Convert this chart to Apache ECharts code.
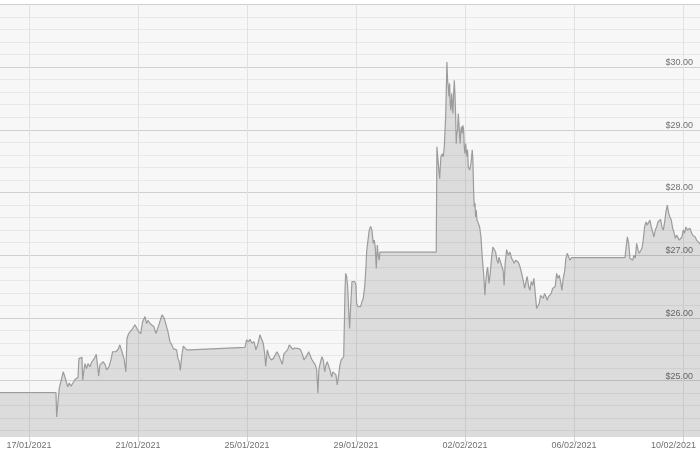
<!DOCTYPE html>
<html><head><meta charset="utf-8">
<script src="https://cdn.jsdelivr.net/npm/echarts@6/dist/echarts.min.js"></script>
<style>html,body{margin:0;padding:0;background:#fff}#c{width:700px;height:456px}</style>
</head><body><div id="c"></div>
<script>
// time is stored as hours after 17/01/2021 00:00 UTC
const startDate = '2021-01-17T00:00:00Z';
const axisStart = '2021-01-15T22:30:00Z';
const axisEnd = '2021-02-10T15:00:00Z';
const priceMin = 24.1, priceMax = 31.0;
const tickDays = 4;

const week1 = [
 [-25.5,24.81],[23.8,24.81],[24.4,24.42],[26.7,24.88],[28.2,24.89],[30.2,25.14],[32.0,25.04],[34.1,24.90],[35.5,24.96],[37.0,24.91],
 [39.0,24.97],[40.8,25.02],[42.0,24.99],[43.2,25.05],[44.0,25.35],[46.7,25.37],[47.3,25.01],[49.3,25.27],[50.8,25.19],[52.0,25.27],
 [53.7,25.22],[55.5,25.30],[57.5,25.35],[59.3,25.42],[61.4,25.07],[62.5,25.25],[64.0,25.22],[65.4,25.30],[67.2,25.25],[68.4,25.17],
 [70.5,25.22],[72.2,25.33],[73.7,25.46],[74.9,25.49],[76.6,25.46],[78.6,25.50],[80.1,25.57],[81.9,25.46],[83.7,25.35],[85.4,25.14],
 [86.3,25.67],[87.8,25.75],[89.5,25.73],[91.3,25.83],[93.4,25.89],[94.9,25.86],[96.6,25.78],[98.4,25.75],[100.1,25.94],[102.2,26.02],
 [103.6,25.91],[104.8,25.96],[106.6,25.91],[108.3,25.92],[110.1,25.86],[111.8,25.75],[113.0,25.81],[114.8,25.91],[116.5,26.01],[117.4,26.05],
 [119.2,25.99],[120.6,25.96],[122.4,25.78],[124.2,25.62],[125.9,25.57],[127.1,25.51],[128.8,25.54],[130.0,25.49],[131.2,25.35],[132.4,25.30],
 [133.3,25.16],[134.5,25.38],[135.9,25.55],[137.4,25.52],[138.9,25.49],[140.3,25.51],[141.8,25.49],[142.9,25.52],[190.2,25.53]
];
const week2 = [
 [191.7,25.65],[193.5,25.62],[194.6,25.66],[196.4,25.60],[198.2,25.62],[199.9,25.49],[201.7,25.59],[203.4,25.73],[204.9,25.70],[206.4,25.59],
 [207.6,25.43],[208.5,25.23],[209.9,25.49],[211.6,25.38],[213.4,25.33],[215.2,25.35],[216.9,25.34],[218.4,25.46],[219.9,25.41],[221.6,25.33],
 [223.1,25.26],[224.6,25.43],[226.3,25.43],[227.8,25.49],[229.3,25.57],[230.7,25.54],[232.2,25.50],[234.0,25.52],[235.7,25.49],[237.5,25.51],
 [239.3,25.49],[241.0,25.41],[242.2,25.33],[243.7,25.35],[245.1,25.41],[246.3,25.46],[247.5,25.41],[249.0,25.34],[250.4,25.33],[252.2,25.25],
 [253.4,25.17],[254.5,24.80],[255.4,25.19],[256.9,25.30],[258.0,25.38],[259.2,25.33],[260.4,25.14],[261.6,25.25],[262.7,25.30],[264.0,25.23],
 [265.1,25.17],[266.6,25.06],[267.7,25.14],[268.9,25.11],[270.4,25.09],[271.5,24.93],[272.8,25.09],[273.9,25.25],[275.0,25.33],[276.3,25.30],
 [277.2,25.38],[278.3,26.39],[278.9,26.71],[279.8,26.66],[280.7,26.50],[281.6,26.12],[282.4,25.83],[283.6,26.28],[284.5,26.58],[285.6,26.55],
 [286.8,26.58],[288.0,26.52],[288.6,26.23],[289.7,26.18],[290.9,26.20],[292.1,26.18],[293.3,26.26],[294.4,26.31],[295.7,26.50],[296.8,26.81],
 [297.4,27.05],[298.6,27.24],[299.7,27.40],[300.9,27.46],[302.1,27.40],[303.2,27.19],[304.1,27.24],[305.0,27.13],[305.9,26.79],[306.8,27.16],
 [307.6,27.00],[308.5,26.92],[309.1,27.05],[358.7,27.05]
];
const week3 = [
 [359.3,28.73],[360.5,28.46],[361.7,28.22],[362.8,28.57],[364.0,28.62],[364.9,28.57],[365.8,28.73],[367.0,29.21],[367.5,29.58],[368.1,30.08],
 [368.7,29.79],[369.3,29.69],[369.9,29.53],[370.5,29.74],[371.0,29.42],[371.6,29.31],[372.3,29.58],[372.8,29.42],[373.4,29.26],[374.0,29.58],
 [374.6,29.79],[375.2,29.58],[375.8,29.21],[376.3,28.78],[376.9,28.94],[377.5,29.00],[378.1,29.26],[378.7,29.10],[379.3,28.89],[379.8,28.78],
 [380.4,29.00],[381.0,29.05],[381.6,28.94],[382.2,29.07],[382.8,29.00],[383.4,28.73],[384.0,28.62],[384.6,28.78],[385.1,28.68],[385.7,28.57],
 [386.3,28.68],[386.9,28.41],[388.1,28.36],[389.3,28.46],[390.4,28.68],[391.0,28.52],[391.6,28.04],[392.2,27.77],[392.8,27.83],[393.4,27.61],
 [393.9,27.72],[394.6,27.56],[395.7,27.51],[396.9,27.45],[398.1,27.29],[399.2,26.97],[400.4,26.71],[401.6,26.36],[402.2,26.55],[403.4,26.76],
 [404.0,26.81],[405.1,26.55],[406.3,26.71],[407.5,26.97],[408.6,27.13],[409.8,27.13],[411.0,27.05],[412.1,26.92],[413.3,26.87],[413.9,26.97],
 [414.8,26.92],[416.2,26.89],[417.6,26.76],[418.5,26.52],[419.4,26.87],[420.7,27.09],[422.1,27.00],[423.6,27.05],[425.1,26.95],[426.5,26.97],
 [427.4,26.87],[428.6,26.92],[429.8,26.93],[430.9,26.89],[432.4,26.82],[433.9,26.71],[435.3,26.60],[436.5,26.47],[437.7,26.44],[438.8,26.66],
 [440.1,26.50],[441.2,26.44],[442.4,26.58],[443.6,26.52],[444.7,26.63],[445.9,26.39],[447.1,26.15],[448.3,26.15],[449.4,26.23],[450.6,26.36],
 [451.8,26.34],[452.9,26.31],[454.1,26.39],[455.3,26.34],[456.5,26.28],[457.6,26.34],[458.8,26.31],[460.0,26.39],[461.2,26.47],[462.3,26.44],
 [463.5,26.50],[464.7,26.71],[465.9,26.63],[467.0,26.68],[468.2,26.58],[469.4,26.44],[470.5,26.63],[471.8,26.74],[472.9,26.95],[474.1,27.03],
 [475.3,26.97],[476.5,26.92],[477.9,26.96],[524.9,26.96]
];
const week4 = [
 [525.8,26.95],[527.0,27.29],[528.2,27.19],[529.3,26.95],[530.5,26.97],[531.7,26.92],[532.8,27.00],[534.0,26.95],[535.2,27.19],[536.4,27.08],
 [537.5,27.03],[538.7,27.05],[539.9,27.11],[541.0,27.24],[542.2,27.45],[543.4,27.53],[544.5,27.48],[545.8,27.51],[546.9,27.56],[548.1,27.45],
 [549.3,27.37],[550.4,27.29],[551.6,27.40],[552.8,27.45],[554.0,27.53],[555.1,27.51],[556.3,27.57],[557.5,27.45],[558.7,27.40],[559.9,27.53],
 [561.0,27.69],[562.2,27.80],[563.4,27.67],[564.5,27.61],[565.7,27.56],[566.9,27.43],[568.0,27.37],[569.2,27.27],[570.4,27.32],[571.6,27.29],
 [572.7,27.24],[573.9,27.25],[575.1,27.29],[576.2,27.40],[577.4,27.35],[578.6,27.45],[579.8,27.40],[581.0,27.37],[582.1,27.43],[583.3,27.37],
 [584.5,27.32],[585.6,27.35],[586.8,27.29],[588.0,27.24],[589.2,27.21],[591.0,27.18]
];

const HOUR = 3600000, DAY = 86400000;
const base = Date.parse(startDate);
const axisMaxMs = Date.parse(axisEnd);
const data = [].concat(week1, week2, week3, week4).map(p => [base + p[0] * HOUR, p[1]]);
const pad = n => (n < 10 ? '0' : '') + n;
function fmtDate(ms) {
  const d = new Date(ms);
  const s = pad(d.getUTCDate()) + '/' + pad(d.getUTCMonth() + 1) + '/' + d.getUTCFullYear();
  // the last date label is pushed left so it stays inside the chart
  return (axisMaxMs - ms < 2 * DAY) ? '{last|' + s + '}' : s;
}

const chart = echarts.init(document.getElementById('c'), null, {renderer: 'canvas'});
chart.setOption({
  animation: false,
  backgroundColor: '#ffffff',
  grid: {left: 0, right: 0, top: 4.4, bottom: 19, show: true, backgroundColor: '#f7f7f7', borderWidth: 0,
    containLabel: false, outerBoundsMode: 'none'},
  xAxis: {
    type: 'value',
    min: Date.parse(axisStart), max: axisMaxMs,
    minInterval: tickDays * DAY, maxInterval: tickDays * DAY,
    axisLine: {show: false},
    axisTick: {show: true, length: 5, lineStyle: {color: '#d4d4d4'}},
    splitLine: {show: true, showMinLine: false, showMaxLine: false, lineStyle: {color: '#e2e2e2', width: 1}},
    axisLabel: {showMinLabel: false, showMaxLabel: false, formatter: fmtDate, color: '#707070',
      fontSize: 9, margin: 4, fontFamily: 'Liberation Sans, Arial, sans-serif', hideOverlap: false,
      rich: {last: {fontSize: 9, color: '#707070', fontFamily: 'Liberation Sans, Arial, sans-serif', padding: [0, 19, 0, 0]}}}
  },
  yAxis: [{
    type: 'value', min: priceMin, max: priceMax, minInterval: 0.2, maxInterval: 0.2,
    axisLine: {show: false}, axisTick: {show: false}, axisLabel: {show: false},
    splitLine: {show: true, showMinLine: false, lineStyle: {color: '#e8e8e8', width: 1}}
  }, {
    type: 'value', position: 'right', min: priceMin, max: priceMax, minInterval: 1, maxInterval: 1,
    axisLine: {show: false}, axisTick: {show: false},
    splitLine: {show: true, showMinLine: false, lineStyle: {color: '#d0d0d0', width: 1}},
    axisLabel: {inside: true, showMinLabel: false, showMaxLabel: false,
      formatter: v => '$' + v.toFixed(2), color: '#707070', fontSize: 9, margin: 7,
      verticalAlign: 'bottom', fontFamily: 'Liberation Sans, Arial, sans-serif'}
  }],
  series: [{
    type: 'line', yAxisIndex: 1, data: data, showSymbol: false, symbol: 'none',
    lineStyle: {color: '#9c9c9c', width: 1.2},
    areaStyle: {color: 'rgba(0,0,0,0.15)', origin: 'start'}
  }]
});
</script></body></html>
